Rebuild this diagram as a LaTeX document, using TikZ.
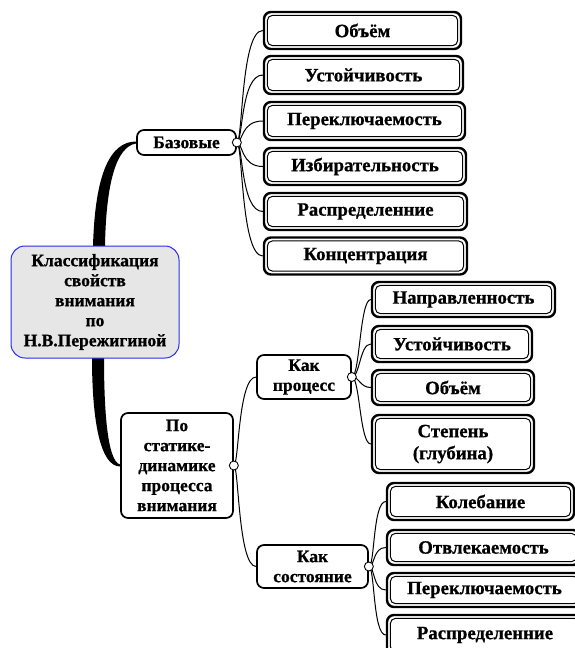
\documentclass[tikz,border=0pt]{standalone}
\usepackage{fontspec}
\setmainfont{Liberation Serif}[BoldFeatures={FakeBold=0.8}]
\usetikzlibrary{calc,backgrounds}
\definecolor{maingray}{HTML}{E6E6E6}
\definecolor{mainblue}{HTML}{2B2BF0}
\tikzset{
  txt/.style={font=\fontsize{17.5}{20}\selectfont\bfseries, align=center, inner sep=0pt},
  leaf/.style={txt, font=\fontsize{18.8}{22}\selectfont\bfseries, draw, line width=2.4pt, rounded corners=7pt, fill=white,
    path picture={\draw[line width=1pt, rounded corners=5pt]
      ([shift={(3.4pt,3.4pt)}]path picture bounding box.south west) rectangle
      ([shift={(-3.4pt,-3.4pt)}]path picture bounding box.north east);}},
  midbox/.style={txt, draw, line width=1.7pt, rounded corners=7pt, fill=white},
  mainbox/.style={txt, draw=mainblue, line width=1pt, rounded corners=14pt, fill=maingray},
  circ/.style={circle, draw, fill=white, minimum size=9pt, inner sep=0pt, line width=0.9pt},
  thin/.style={line width=1pt},
  thick/.style={fill=black, draw=none}
}
\begin{document}
\begin{tikzpicture}[x=1pt,y=-1pt]
\useasboundingbox (0,0) rectangle (575,648);
\clip (0,0) rectangle (575,648);
% main
\node[mainbox, minimum width=168pt, minimum height=112pt] (main) at (95,302)
  {Классификация\\свойств\\внимания\\по\\Н.В.Пережигиной};
% level 1
\node[midbox, minimum width=99pt, minimum height=25pt] (base) at (186.5,142.5) {Базовые};
\node[midbox, minimum width=112pt, minimum height=105pt] (stat) at (177,465.5)
  {По\\статике-\\динамике\\процесса\\внимания};
% level 2
\node[midbox, minimum width=94pt, minimum height=44pt] (proc) at (304,377) {Как\\процесс};
\node[midbox, minimum width=111pt, minimum height=43pt] (sost) at (312.5,566.5) {Как\\состояние};
% leaves of Базовые
\node[leaf, minimum width=197pt, minimum height=37pt] (b1) at (362.5,30.5) {Объём};
\node[leaf, minimum width=199pt, minimum height=38pt] (b2) at (363.5,75) {Устойчивость};
\node[leaf, minimum width=201pt, minimum height=38pt] (b3) at (364.5,121) {Переключаемость};
\node[leaf, minimum width=202pt, minimum height=37pt] (b4) at (365,166.5) {Избирательность};
\node[leaf, minimum width=203pt, minimum height=37pt] (b5) at (365.5,211.5) {Распределенние};
\node[leaf, minimum width=203pt, minimum height=37pt] (b6) at (365.5,256) {Концентрация};
% leaves of Как процесс
\node[leaf, minimum width=183pt, minimum height=35pt] (p1) at (463.5,299.5) {Направленность};
\node[leaf, minimum width=160pt, minimum height=36pt] (p2) at (452,344) {Устойчивость};
\node[leaf, minimum width=162pt, minimum height=35pt] (p3) at (453,387.5) {Объём};
\node[leaf, minimum width=162pt, minimum height=58pt] (p4) at (453,444) {Степень\\(глубина)};
% leaves of Как состояние
\node[leaf, minimum width=187pt, minimum height=37pt] (s1) at (480.5,501.5) {Колебание};
\node[leaf, minimum width=193pt, minimum height=35pt] (s2) at (483.5,547.5) {Отвлекаемость};
\node[leaf, minimum width=195pt, minimum height=34pt] (s3) at (484.5,590) {Переключаемость};
\node[leaf, minimum width=196pt, minimum height=40pt] (s4) at (485,635) {Распределенние};
% circles
\node[circ] (cb) at (base.east) {};
\node[circ] (cs) at (stat.east) {};
\node[circ] (cp) at (proc.east) {};
\node[circ] (cc) at (sost.east) {};
\begin{pgfonlayer}{background}
% thick connectors
\path[thick] ($(main.north)+(-2,1)$) .. controls ($(main.north)+(0,-72)$) and ($(base.west)+(-26,-1)$) .. ($(base.west)+(0,-1)$)
  -- ($(base.west)+(0,1)$) .. controls ($(base.west)+(-20,4)$) and ($(main.north)+(11,-62)$) .. ($(main.north)+(10,1)$) -- cycle;
\path[thick] ($(main.south)+(-3,-1)$) .. controls ($(main.south)+(-3,62)$) and ($(stat.west)+(-20,1)$) .. ($(stat.west)+(0,1)$)
  -- ($(stat.west)+(0,-1)$) .. controls ($(stat.west)+(-13,-4)$) and ($(main.south)+(9,50)$) .. ($(main.south)+(9,-1)$) -- cycle;
% thin connectors
\foreach \t in {b1,b2,b3,b4,b5,b6}
  \draw[thin] (cb.center) .. controls +(6,0) and +(-22,0) .. (\t.west);
\foreach \t in {p1,p2,p3,p4}
  \draw[thin] (cp.center) .. controls +(8,0) and +(-11,0) .. (\t.west);
\foreach \t in {s1,s2,s3,s4}
  \draw[thin] (cc.center) .. controls +(6,0) and +(-13,0) .. (\t.west);
\foreach \t in {proc,sost}
  \draw[thin] (cs.center) .. controls +(5,0) and +(-18,0) .. (\t.west);
\end{pgfonlayer}
\end{tikzpicture}
\end{document}
